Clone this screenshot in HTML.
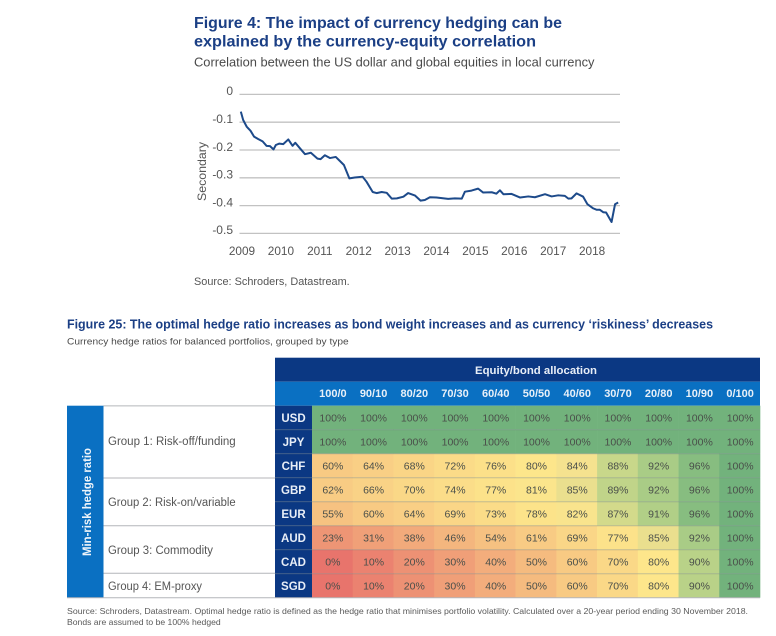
<!DOCTYPE html>
<html lang="en">
<head>
<meta charset="utf-8">
<title>Currency hedging figures</title>
<style>
html,body{margin:0;padding:0;background:#fff;width:776px;height:636px;overflow:hidden}
svg{display:block;font-family:"Liberation Sans",sans-serif;filter:blur(0.3px)}
</style>
</head>
<body>
<svg id="page" xmlns="http://www.w3.org/2000/svg" width="776" height="636" viewBox="0 0 776 636">
  <text x="194" y="28" font-size="16" font-weight="700" fill="#1b3f85" textLength="368" lengthAdjust="spacingAndGlyphs">Figure 4: The impact of currency hedging can be</text>
  <text x="194" y="46.5" font-size="16" font-weight="700" fill="#1b3f85" textLength="342" lengthAdjust="spacingAndGlyphs">explained by the currency-equity correlation</text>
  <text x="194" y="66.5" font-size="12.5" fill="#4a4a4a" textLength="400.5" lengthAdjust="spacingAndGlyphs">Correlation between the US dollar and global equities in local currency</text>
  <g id="chart"></g>
  <text transform="translate(206,171.5) rotate(-90)" text-anchor="middle" font-size="12" fill="#555" textLength="59" lengthAdjust="spacingAndGlyphs">Secondary</text>
  <text x="194" y="285" font-size="11" fill="#555" textLength="155.7" lengthAdjust="spacingAndGlyphs">Source: Schroders, Datastream.</text>

  <text x="67" y="328.5" font-size="12.5" font-weight="700" fill="#1b3f85" textLength="646" lengthAdjust="spacingAndGlyphs">Figure 25: The optimal hedge ratio increases as bond weight increases and as currency ‘riskiness’ decreases</text>
  <text x="67" y="344.3" font-size="9.5" fill="#4a4a4a" textLength="281.7" lengthAdjust="spacingAndGlyphs">Currency hedge ratios for balanced portfolios, grouped by type</text>

  <rect x="275" y="357.7" width="485" height="24" fill="#0b3883"></rect>
  <rect x="275" y="381.7" width="485" height="24" fill="#0a70c2"></rect>
  <text x="536" y="374" text-anchor="middle" font-size="11" font-weight="700" fill="#e8eef7" textLength="122" lengthAdjust="spacingAndGlyphs">Equity/bond allocation</text>

  <rect x="67" y="405.7" width="36.5" height="192" fill="#0a70c2"></rect>
  <text transform="translate(91,502) rotate(-90)" text-anchor="middle" font-size="11.5" font-weight="700" fill="#eef4fa" textLength="108" lengthAdjust="spacingAndGlyphs">Min-risk hedge ratio</text>

  <g id="group-column" stroke="#b4b6ba" stroke-width="1">
    <line x1="103.5" x2="275" y1="405.9" y2="405.9"></line>
    <line x1="103.5" x2="275" y1="478" y2="478"></line>
    <line x1="103.5" x2="275" y1="525.7" y2="525.7"></line>
    <line x1="103.5" x2="275" y1="573.3" y2="573.3"></line>
    <line x1="67" x2="275" y1="597.7" y2="597.7"></line>
  </g>
  <text x="108" y="445" font-size="11.5" fill="#555" textLength="127.7" lengthAdjust="spacingAndGlyphs">Group 1: Risk-off/funding</text>
  <text x="108" y="506" font-size="11.5" fill="#555" textLength="127.7" lengthAdjust="spacingAndGlyphs">Group 2: Risk-on/variable</text>
  <text x="108" y="554" font-size="11.5" fill="#555" textLength="105" lengthAdjust="spacingAndGlyphs">Group 3: Commodity</text>
  <text x="108" y="590" font-size="11.5" fill="#555" textLength="94" lengthAdjust="spacingAndGlyphs">Group 4: EM-proxy</text>

  <g id="heatmap"></g>

  <text x="67" y="614" font-size="8.6" fill="#5a5a5a" textLength="681" lengthAdjust="spacingAndGlyphs">Source: Schroders, Datastream. Optimal hedge ratio is defined as the hedge ratio that minimises portfolio volatility. Calculated over a 20-year period ending 30 November 2018.</text>
  <text x="67" y="625" font-size="8.6" fill="#5a5a5a" textLength="153.7" lengthAdjust="spacingAndGlyphs">Bonds are assumed to be 100% hedged</text>
</svg>
<script>
// Figure 4 data
const yTicks = [0, -0.1, -0.2, -0.3, -0.4, -0.5];
const yearLabels = [2009, 2010, 2011, 2012, 2013, 2014, 2015, 2016, 2017, 2018];
const dates = [2008.97,2009.03,2009.12,2009.22,2009.31,2009.42,2009.53,2009.63,2009.72,2009.81,2009.87,2009.96,2010.06,2010.19,2010.30,2010.37,2010.49,2010.62,2010.77,2010.94,2011.02,2011.13,2011.26,2011.41,2011.52,2011.62,2011.76,2011.90,2012.10,2012.20,2012.36,2012.46,2012.59,2012.72,2012.85,2012.98,2013.15,2013.27,2013.45,2013.59,2013.70,2013.83,2014.00,2014.30,2014.47,2014.65,2014.73,2014.90,2015.07,2015.20,2015.42,2015.54,2015.63,2015.72,2015.93,2016.15,2016.36,2016.53,2016.79,2016.96,2017.13,2017.30,2017.39,2017.47,2017.60,2017.77,2017.88,2018.03,2018.12,2018.20,2018.29,2018.36,2018.50,2018.59,2018.67];
const correlation = [-0.062,-0.092,-0.116,-0.131,-0.152,-0.161,-0.169,-0.185,-0.186,-0.198,-0.182,-0.177,-0.179,-0.162,-0.185,-0.174,-0.194,-0.215,-0.210,-0.231,-0.233,-0.219,-0.229,-0.225,-0.240,-0.254,-0.302,-0.299,-0.296,-0.314,-0.351,-0.355,-0.351,-0.354,-0.375,-0.374,-0.368,-0.355,-0.364,-0.382,-0.380,-0.370,-0.371,-0.376,-0.374,-0.375,-0.350,-0.346,-0.339,-0.353,-0.352,-0.357,-0.345,-0.359,-0.358,-0.371,-0.367,-0.370,-0.359,-0.367,-0.363,-0.365,-0.375,-0.374,-0.356,-0.368,-0.395,-0.410,-0.415,-0.415,-0.424,-0.425,-0.459,-0.395,-0.389];

// Figure 25 data
const allocations = ["100/0","90/10","80/20","70/30","60/40","50/50","40/60","30/70","20/80","10/90","0/100"];
const currencies = ["USD","JPY","CHF","GBP","EUR","AUD","CAD","SGD"];
const hedgeUSD = [100,100,100,100,100,100,100,100,100,100,100];
const hedgeJPY = [100,100,100,100,100,100,100,100,100,100,100];
const hedgeCHF = [60,64,68,72,76,80,84,88,92,96,100];
const hedgeGBP = [62,66,70,74,77,81,85,89,92,96,100];
const hedgeEUR = [55,60,64,69,73,78,82,87,91,96,100];
const hedgeAUD = [23,31,38,46,54,61,69,77,85,92,100];
const hedgeCAD = [0,10,20,30,40,50,60,70,80,90,100];
const hedgeSGD = [0,10,20,30,40,50,60,70,80,90,100];
const hedgeRows = [hedgeUSD,hedgeJPY,hedgeCHF,hedgeGBP,hedgeEUR,hedgeAUD,hedgeCAD,hedgeSGD];

const NS = "http://www.w3.org/2000/svg";
function make(tag, parent, attrs, content) {
  const el = document.createElementNS(NS, tag);
  for (const k in attrs) el.setAttribute(k, attrs[k]);
  if (content !== undefined) el.textContent = content;
  parent.appendChild(el);
  return el;
}

// Axis functions for Figure 4
function xScale(t) { return 242 + (t - 2009) * 38.9; }
function yScale(v) { return 94.4 - v * 278; }

const chart = document.getElementById("chart");
yTicks.forEach(function (v) {
  const grid = make("line", chart, {x1: 239.5, x2: 620, y1: yScale(v), y2: yScale(v), stroke: "#c2c2c2", "stroke-width": 1.3});
  
  
  const label = make("text", chart, {x: 233, y: yScale(v) + 0.8, "text-anchor": "end", "font-size": 12, fill: "#555"}, v === 0 ? "0" : v.toFixed(1));
  
  
});
yearLabels.forEach(function (y) {
  const label = make("text", chart, {x: xScale(y), y: 255, "text-anchor": "middle", "font-size": 11.8, fill: "#555"}, String(y));
  
  
});
const pathD = dates.map(function (t, i) {
  return (i ? "L" : "M") + xScale(t).toFixed(2) + " " + yScale(correlation[i]).toFixed(2);
}).join(" ");
const series = make("path", chart, {d: pathD, fill: "none", stroke: "#1d4a8a", "stroke-width": 2, "stroke-linejoin": "round"});



// Axis functions for Figure 25
const colStart = 312, colWidth = 448 / 11, rowStart = 405.7, rowHeight = 24;
function colX(i) { return colStart + i * colWidth; }
function rowY(i) { return rowStart + i * rowHeight; }
function mix(a, b, f) {
  return "rgb(" + a.map(function (c, i) { return Math.round(c + (b[i] - c) * f); }).join(",") + ")";
}
function heatColor(v) {
  const scale = [[0,[232,116,108]],[80,[253,230,139]],[84,[245,226,143]],[88,[200,215,138]],[92,[169,204,134]],[96,[135,189,128]],[100,[114,178,124]]];
  for (let i = 1; i < scale.length; i++) {
    if (v <= scale[i][0]) {
      return mix(scale[i - 1][1], scale[i][1], (v - scale[i - 1][0]) / (scale[i][0] - scale[i - 1][0]));
    }
  }
  return mix(scale[6][1], scale[6][1], 0);
}

const heatmap = document.getElementById("heatmap");
allocations.forEach(function (a, c) {
  const label = make("text", heatmap, {x: colX(c) + colWidth / 2 + 0.5, y: 397, "text-anchor": "middle", "font-size": 11, "font-weight": 700, fill: "#e8f0f8"}, a);
  
  
});
currencies.forEach(function (cur, r) {
  const head = make("rect", heatmap, {x: 275, y: rowY(r), width: 37, height: rowHeight, fill: "#0b3883"});
  
  
  const headText = make("text", heatmap, {x: 293.5, y: rowY(r) + 16.5, "text-anchor": "middle", "font-size": 11.5, "font-weight": 700, fill: "#e8eef7"}, cur);
  
  
  hedgeRows[r].forEach(function (v, c) {
    const cell = make("rect", heatmap, {x: colX(c), y: rowY(r), width: colWidth + 0.3, height: rowHeight, fill: heatColor(v)});
    
    
    const text = make("text", heatmap, {x: colX(c) + colWidth / 2 + 0.5, y: rowY(r) + 16, "text-anchor": "middle", "font-size": 10.5, fill: "#4a4f4a"}, v + "%");
    
    
  });
  if (r > 0) {
    const rule = make("line", heatmap, {x1: 275, x2: 760, y1: rowY(r), y2: rowY(r), stroke: "#6f7f80", "stroke-opacity": 0.4, "stroke-width": 1});
    
    
  }
});
const bottomRule = make("line", heatmap, {x1: 275, x2: 760, y1: rowY(8), y2: rowY(8), stroke: "#b4b6ba", "stroke-width": 1});


</script>
</body>
</html>
